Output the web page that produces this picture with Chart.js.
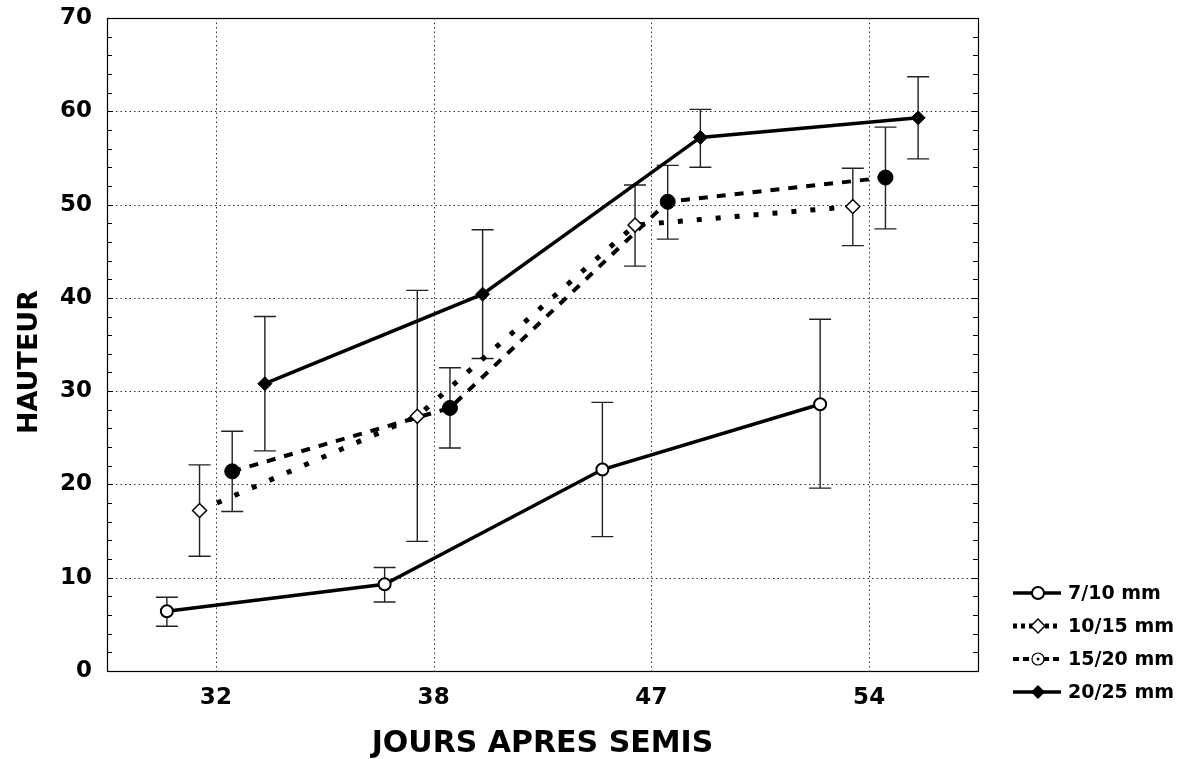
<!DOCTYPE html>
<html>
<head>
<meta charset="utf-8">
<script src="https://cdn.jsdelivr.net/npm/chart.js@4"></script>
<style>
html,body{margin:0;padding:0;background:#fff;}
#wrap{width:1178px;height:759px;position:relative;}
</style>
</head>
<body>
<div id="wrap"><canvas id="c" width="1178" height="759"></canvas></div>
<script>
// ---- data ----
const categories = ['32', '38', '47', '54'];
const seriesNames = ['7/10 mm', '10/15 mm', '15/20 mm', '20/25 mm'];
const seriesOffsets = [-0.225, -0.075, 0.075, 0.225];
const yTicks = [0, 10, 20, 30, 40, 50, 60, 70];
const xTitle = 'JOURS APRES SEMIS';
const yTitle = 'HAUTEUR';

const mean_7_10   = [6.4, 9.3, 21.6, 28.6];
const low_7_10    = [4.8, 7.4, 14.4, 19.6];
const high_7_10   = [7.9, 11.1, 28.8, 37.7];

const mean_10_15  = [17.2, 27.3, 47.8, 49.8];
const low_10_15   = [12.3, 13.9, 43.4, 45.6];
const high_10_15  = [22.1, 40.8, 52.1, 53.9];

const mean_15_20  = [21.4, 28.2, 50.3, 52.9];
const low_15_20   = [17.1, 23.9, 46.3, 47.4];
const high_15_20  = [25.7, 32.5, 54.2, 58.3];

const mean_20_25  = [30.8, 40.4, 57.2, 59.3];
const low_20_25   = [23.6, 33.5, 54.0, 54.9];
const high_20_25  = [38.0, 47.3, 60.2, 63.7];

const means = [mean_7_10, mean_10_15, mean_15_20, mean_20_25];
const lows  = [low_7_10, low_10_15, low_15_20, low_20_25];
const highs = [high_7_10, high_10_15, high_15_20, high_20_25];

// ---- styles ----
const FONT = '"DejaVu Sans", "Liberation Sans", Arial, sans-serif';
const styles = [
  {dash: [], width: 3.5, pointStyle: 'circle', radius: 6, fill: '#fff', pborder: 2},
  {dash: [5, 14], width: 5, pointStyle: 'rectRot', radius: 7, fill: '#fff', pborder: 1.5},
  {dash: [9, 9], width: 4, pointStyle: 'circle', radius: 7.5, fill: '#000', pborder: 1},
  {dash: [], width: 3.5, pointStyle: 'rectRot', radius: 7, fill: '#000', pborder: 1}
];

const datasets = seriesNames.map((name, s) => ({
  label: name,
  data: means[s].map((v, i) => ({x: i + seriesOffsets[s], y: v, lo: lows[s][i], hi: highs[s][i]})),
  borderColor: '#000',
  borderWidth: styles[s].width,
  borderDash: styles[s].dash,
  borderCapStyle: 'butt',
  pointStyle: styles[s].pointStyle,
  pointRadius: styles[s].radius,
  pointBackgroundColor: styles[s].fill,
  pointBorderColor: '#000',
  pointBorderWidth: styles[s].pborder,
  tension: 0,
  fill: false
}));

const decoPlugin = {
  id: 'deco',
  beforeDatasetsDraw(chart) {
    const {ctx, chartArea: a, scales: {x, y}} = chart;
    ctx.save();
    // dotted grid
    ctx.strokeStyle = '#333';
    ctx.lineWidth = 1;
    ctx.setLineDash([1.5, 3]);
    yTicks.forEach(v => {
      if (v === 0 || v === 70) return;
      const py = Math.round(y.getPixelForValue(v)) + 0.5;
      ctx.beginPath(); ctx.moveTo(a.left, py); ctx.lineTo(a.right, py); ctx.stroke();
    });
    categories.forEach((c, i) => {
      const px = Math.round(x.getPixelForValue(i)) + 0.5;
      ctx.beginPath(); ctx.moveTo(px, a.top); ctx.lineTo(px, a.bottom); ctx.stroke();
    });
    ctx.setLineDash([]);
    // minor ticks, left and right inside
    ctx.strokeStyle = '#000';
    for (let v = 2; v < 70; v += 2) {
      const py = Math.round(y.getPixelForValue(v)) + 0.5;
      const len = (v % 10 === 0) ? 6 : 5;
      ctx.beginPath(); ctx.moveTo(a.left, py); ctx.lineTo(a.left + len, py); ctx.stroke();
      ctx.beginPath(); ctx.moveTo(a.right, py); ctx.lineTo(a.right - len, py); ctx.stroke();
    }
    // frame
    ctx.lineWidth = 1.2;
    ctx.strokeRect(Math.round(a.left) + 0.5, Math.round(a.top) + 0.5, Math.round(a.right - a.left), Math.round(a.bottom - a.top));
    // error bars
    ctx.strokeStyle = '#222';
    ctx.lineWidth = 1.4;
    chart.data.datasets.forEach(ds => {
      ds.data.forEach(p => {
        const px = x.getPixelForValue(p.x);
        const pl = y.getPixelForValue(p.lo), ph = y.getPixelForValue(p.hi);
        ctx.beginPath();
        ctx.moveTo(px, pl); ctx.lineTo(px, ph);
        ctx.moveTo(px - 11, pl); ctx.lineTo(px + 11, pl);
        ctx.moveTo(px - 11, ph); ctx.lineTo(px + 11, ph);
        ctx.stroke();
      });
    });
    ctx.restore();
  },
  afterDraw(chart) {
    const {ctx} = chart;
    ctx.save();
    // y axis title
    ctx.fillStyle = '#000';
    ctx.font = 'bold 27px ' + FONT;
    ctx.textAlign = 'center';
    ctx.textBaseline = 'middle';
    ctx.translate(30, 362);
    ctx.rotate(-Math.PI / 2);
    ctx.fillText(yTitle, 0, 0);
    ctx.restore();

    ctx.save();
    const rowsY = [593, 626, 659, 692];
    seriesNames.forEach((name, s) => {
      const yy = rowsY[s];
      const st = styles[s];
      ctx.strokeStyle = '#000';
      ctx.lineWidth = st.width;
      ctx.lineCap = 'butt';
      ctx.setLineDash(s === 1 ? [4, 4] : (s === 2 ? [6, 4] : []));
      ctx.beginPath(); ctx.moveTo(1013, yy); ctx.lineTo(1061, yy); ctx.stroke();
      ctx.setLineDash([]);
      const mx = 1038;
      ctx.lineWidth = 1.5;
      if (s === 0) {
        ctx.fillStyle = '#fff';
        ctx.beginPath(); ctx.arc(mx, yy, 6, 0, Math.PI * 2); ctx.fill(); ctx.lineWidth = 2; ctx.stroke();
      } else if (s === 1) {
        ctx.fillStyle = '#fff';
        ctx.beginPath(); ctx.moveTo(mx, yy - 7); ctx.lineTo(mx + 7, yy); ctx.lineTo(mx, yy + 7); ctx.lineTo(mx - 7, yy); ctx.closePath(); ctx.fill(); ctx.stroke();
      } else if (s === 2) {
        ctx.fillStyle = '#fff';
        ctx.beginPath(); ctx.arc(mx, yy, 6, 0, Math.PI * 2); ctx.fill(); ctx.lineWidth = 1.2; ctx.stroke();
        ctx.fillStyle = '#000';
        ctx.beginPath(); ctx.arc(mx, yy, 1.5, 0, Math.PI * 2); ctx.fill();
      } else {
        ctx.fillStyle = '#000';
        ctx.beginPath(); ctx.moveTo(mx, yy - 7); ctx.lineTo(mx + 7, yy); ctx.lineTo(mx, yy + 7); ctx.lineTo(mx - 7, yy); ctx.closePath(); ctx.fill();
      }
      ctx.fillStyle = '#000';
      ctx.font = 'bold 19px ' + FONT;
      ctx.textAlign = 'left';
      ctx.textBaseline = 'middle';
      ctx.fillText(name, 1068, yy + 1);
    });
    ctx.restore();
  }
};

new Chart(document.getElementById('c'), {
  type: 'line',
  data: {datasets},
  options: {
    responsive: false,
    animation: false,
    layout: {padding: {top: 18, right: 200, left: 0, bottom: 0}},
    plugins: {legend: {display: false}, tooltip: {enabled: false}},
    scales: {
      x: {
        type: 'linear',
        min: -0.5, max: 3.5,
        afterBuildTicks(scale) { scale.ticks = categories.map((c, i) => ({value: i})); },
        afterFit(scale) { scale.height = 88; scale.paddingLeft = 0; scale.paddingRight = 0; },
        grid: {display: false, drawTicks: false},
        border: {display: false},
        ticks: {
          callback: v => categories[v] ?? '',
          color: '#000',
          padding: 13,
          maxRotation: 0,
          font: {family: FONT, weight: 'bold', size: 23}
        },
        title: {
          display: true, text: xTitle, color: '#000',
          padding: {top: 0, bottom: 0},
          font: {family: FONT, weight: 'bold', size: 30, lineHeight: 1}
        }
      },
      y: {
        min: 0, max: 70,
        afterBuildTicks(scale) { scale.ticks = yTicks.map(v => ({value: v})); },
        afterFit(scale) { scale.width = 107; scale.paddingTop = 0; scale.paddingBottom = 0; },
        grid: {display: false, drawTicks: false},
        border: {display: false},
        ticks: {
          color: '#000',
          padding: 15,
          font: {family: FONT, weight: 'bold', size: 23}
        },
        title: {display: false}
      }
    }
  },
  plugins: [decoPlugin]
});
</script>
</body>
</html>
